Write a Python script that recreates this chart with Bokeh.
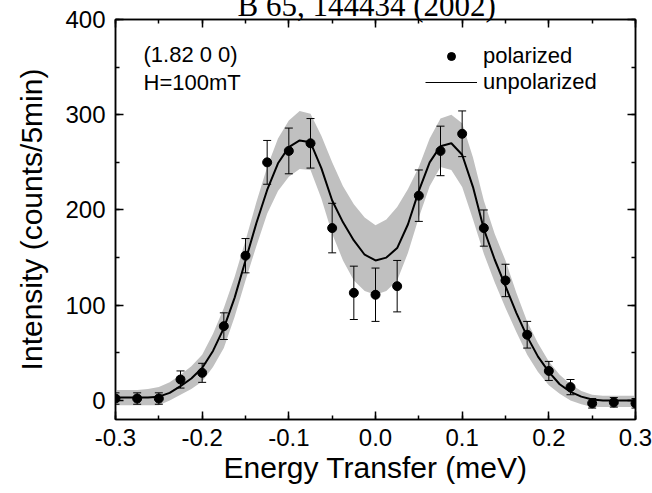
from bokeh.plotting import figure
from bokeh.models import (ColumnDataSource, Whisker, TeeHead, FixedTicker, LinearAxis,
                          Label, Legend, LegendItem, CustomJSTickFormatter, Range1d)
from bokeh.embed import file_html
from bokeh.resources import INLINE

# ---- data ----
energy = [-0.3, -0.275, -0.25, -0.225, -0.2, -0.175, -0.15, -0.125, -0.1, -0.075, -0.05, -0.025,
          0.0, 0.025, 0.05, 0.075, 0.1, 0.125, 0.15, 0.175, 0.2, 0.225, 0.25, 0.275, 0.3]
polarized = [2, 2, 2, 22, 29, 78, 152, 250, 262, 270, 181, 113,
             111, 120, 215, 262, 280, 181, 126, 69, 31, 14, -3, -2, -3]
polarized_err = [6, 6, 6, 9, 10, 14, 18, 23, 24, 26, 26, 28,
                 28, 27, 27, 26, 24, 19, 17, 14, 10, 8, 5, 5, 5]

curve_energy = [-0.3, -0.2875, -0.275, -0.2625, -0.25, -0.2375, -0.225, -0.2125, -0.2, -0.1875,
                -0.175, -0.1625, -0.15, -0.1375, -0.125, -0.1125, -0.1, -0.0875, -0.075, -0.0625,
                -0.05, -0.0375, -0.025, -0.0125, 0.0, 0.0125, 0.025, 0.0375, 0.05, 0.0625,
                0.075, 0.0875, 0.1, 0.1125, 0.125, 0.1375, 0.15, 0.1625, 0.175, 0.1875,
                0.2, 0.2125, 0.225, 0.2375, 0.25, 0.2625, 0.275, 0.2875, 0.3]
unpolarized = [3, 3, 3, 3, 4, 8, 15, 23, 34, 52,
               76, 108, 147, 186, 221, 249, 266, 273, 271, 244,
               210, 187, 168, 153, 147, 150, 160, 185, 220, 250,
               267, 270, 258, 224, 180, 148, 120, 92, 67, 46,
               30, 17, 9, 4, 1, 0, 0, 0, 0]
band_upper = [11, 11, 11, 12, 14, 19, 27, 36, 48, 70,
              97, 130, 168, 208, 245, 275, 294, 304, 301, 278,
              250, 225, 206, 192, 184, 190, 203, 222, 245, 275,
              296, 300, 291, 255, 210, 175, 147, 113, 83, 60,
              41, 27, 17, 10, 6, 5, 5, 5, 5]
band_lower = [-5, -5, -5, -5, -5, 0, 6, 12, 20, 35,
              55, 88, 126, 162, 196, 220, 235, 243, 242, 212,
              175, 147, 126, 115, 111, 115, 126, 155, 192, 225,
              245, 242, 224, 190, 154, 124, 97, 72, 48, 30,
              16, 7, 0, -4, -7, -7, -7, -7, -7]

x_ticks = [-0.3, -0.2, -0.1, 0.0, 0.1, 0.2, 0.3]
x_minor = [-0.3, -0.25, -0.2, -0.15, -0.1, -0.05, 0.0, 0.05, 0.1, 0.15, 0.2, 0.25, 0.3]
y_ticks = [0, 100, 200, 300, 400]
y_minor = [-50, 0, 50, 100, 150, 200, 250, 300, 350, 400]

citation = "B 65, 144434 (2002)"

SANS = "Liberation Sans"
SERIF = "Liberation Serif"

p = figure(width=652, height=493, output_backend="svg", toolbar_location=None,
           x_range=Range1d(-0.3, 0.3), y_range=Range1d(-20, 400),
           min_border_left=115, min_border_right=17, min_border_top=19, min_border_bottom=74,
           x_axis_label="Energy Transfer (meV)", y_axis_label="Intensity (counts/5min)",
           title=citation)
p.grid.visible = False
p.outline_line_color = "black"
p.outline_line_width = 1.5
p.background_fill_color = "white"
p.border_fill_color = "white"

# citation line, cut off at the top edge like the reference
p.title.align = "left"
p.title.offset = 122
p.title.vertical_align = "top"
p.title.standoff = -35
p.title.text_font = SERIF
p.title.text_font_size = "31px"
p.title.text_font_style = "normal"
p.title.text_color = "black"

# band + curve
p.varea(x=curve_energy, y1=band_lower, y2=band_upper, fill_color="#c0c0c0", fill_alpha=1.0)
p.line(x=curve_energy, y=unpolarized, line_color="black", line_width=2)

# data with error bars
src = ColumnDataSource(dict(
    x=energy, y=polarized,
    upper=[v + e for v, e in zip(polarized, polarized_err)],
    lower=[v - e for v, e in zip(polarized, polarized_err)],
))
wh = Whisker(source=src, base="x", upper="upper", lower="lower", line_color="black", line_width=1,
             upper_head=TeeHead(size=8, line_color="black", line_width=1),
             lower_head=TeeHead(size=8, line_color="black", line_width=1), level="glyph")
p.add_layout(wh)
p.scatter(x="x", y="y", source=src, size=9, fill_color="black", line_color="black")

# axes styling
def style_axis(ax, show_labels):
    ax.axis_line_color = "black"
    ax.axis_line_width = 1.5
    ax.major_tick_line_color = "black"
    ax.minor_tick_line_color = "black"
    ax.major_tick_line_width = 1.5
    ax.minor_tick_line_width = 1.5
    ax.major_tick_in = 8
    ax.major_tick_out = 0
    ax.minor_tick_in = 4
    ax.minor_tick_out = 0
    if show_labels:
        ax.major_label_text_font = SANS
        ax.major_label_text_font_size = "24px"
        ax.major_label_text_color = "black"
        ax.axis_label_text_font = SANS
        ax.axis_label_text_font_size = "30px"
        ax.axis_label_text_font_style = "normal"
        ax.axis_label_text_color = "black"
    else:
        ax.formatter = CustomJSTickFormatter(code="return '';")
        ax.major_label_text_font_size = "1px"
        ax.major_label_standoff = 0

p.xaxis.ticker = FixedTicker(ticks=x_ticks, minor_ticks=x_minor)
p.xaxis.formatter = CustomJSTickFormatter(code="return tick.toFixed(1);")
p.yaxis.ticker = FixedTicker(ticks=y_ticks, minor_ticks=y_minor)
style_axis(p.xaxis[0], True)
style_axis(p.yaxis[0], True)
p.xaxis.major_label_standoff = 9
p.xaxis.axis_label_standoff = 2
p.yaxis.major_label_standoff = 10
p.yaxis.axis_label_standoff = 14

top = LinearAxis(ticker=FixedTicker(ticks=x_ticks, minor_ticks=x_minor))
right = LinearAxis(ticker=FixedTicker(ticks=y_ticks, minor_ticks=y_minor))
style_axis(top, False)
style_axis(right, False)
p.add_layout(top, "above")
p.add_layout(right, "right")

# invisible spacer above the top axis, so the citation sits higher
spacer = LinearAxis(ticker=FixedTicker(ticks=x_ticks, minor_ticks=[]))
style_axis(spacer, False)
spacer.axis_line_color = None
spacer.major_tick_line_color = None
spacer.minor_tick_line_color = None
spacer.major_tick_in = 0
spacer.major_tick_out = 12
p.add_layout(spacer, "above")

# annotations
p.add_layout(Label(x=-0.2677, y=363.2, text="(1.82 0 0)", text_font=SANS, text_font_size="22px",
                   text_color="black", text_baseline="alphabetic"))
p.add_layout(Label(x=-0.2677, y=333.8, text="H=100mT", text_font=SANS, text_font_size="22px",
                   text_color="black", text_baseline="alphabetic"))

# legend (dedicated glyphs, no visible data)
nan = float("nan")
leg_dot = p.scatter(x=[nan], y=[nan], size=12, fill_color="black", line_color="black")
leg_line = p.line(x=[nan, nan], y=[nan, nan], line_color="black", line_width=1)
legend = Legend(items=[LegendItem(label="polarized", renderers=[leg_dot]),
                       LegendItem(label="unpolarized", renderers=[leg_line])],
                location=(310, 324), label_text_font=SANS, label_text_font_size="22px",
                label_text_color="black",
                glyph_width=52, label_standoff=6, spacing=0, padding=5, margin=0,
                background_fill_alpha=0, border_line_color=None)
p.add_layout(legend)

open("out.html", "w").write(file_html(p, INLINE))
